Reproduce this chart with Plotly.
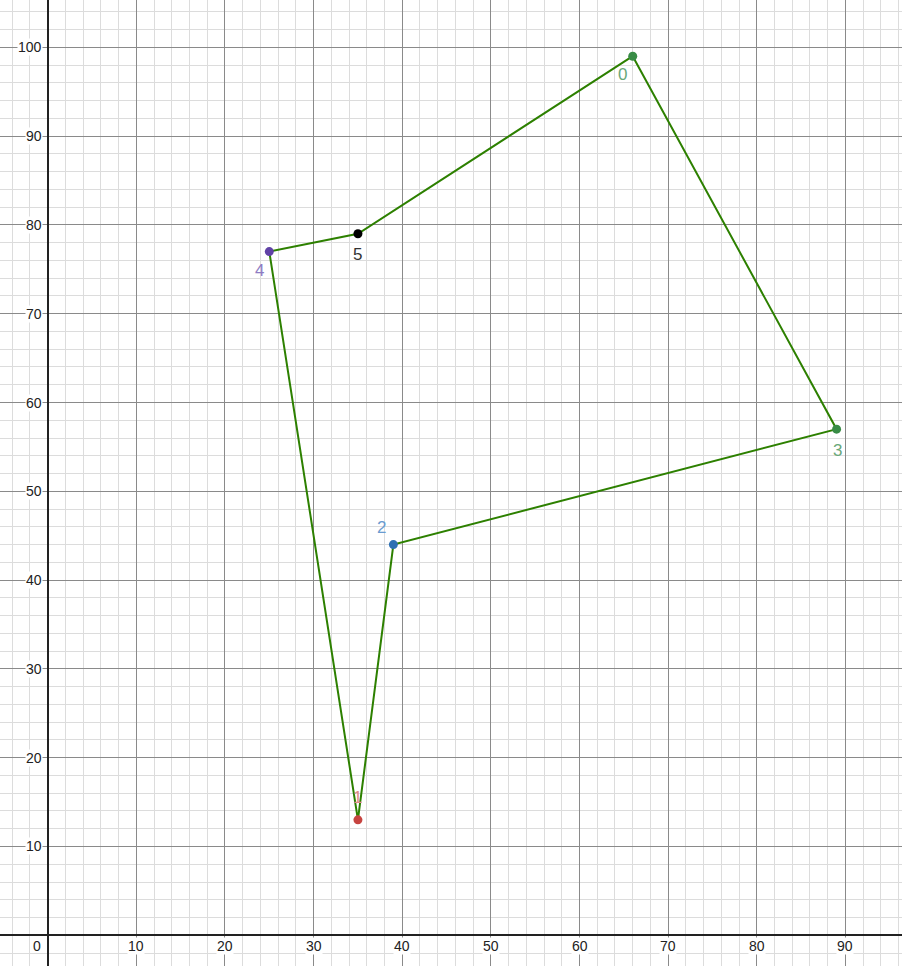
import plotly.graph_objects as go

# Data
point_labels = ["0", "1", "2", "3", "4", "5"]
point_x = [66, 35, 39, 89, 25, 35]
point_y = [99, 13, 44, 57, 77, 79]
polygon_order = [0, 3, 2, 1, 4, 5, 0]
x_ticks = [10, 20, 30, 40, 50, 60, 70, 80, 90]
y_ticks = [10, 20, 30, 40, 50, 60, 70, 80, 90, 100]

point_colors = ["#388c46", "#c74440", "#2d70b3", "#388c46", "#6042a6", "#000000"]
label_colors = ["#6aa87a", "#e08a86", "#6a9bd0", "#6aa87a", "#8e7cc3", "#333333"]
label_shift = [(-10, -18), (0, 22), (-12, 17), (1, -21), (-10, -19), (0, -21)]

fig = go.Figure()

px = [point_x[i] for i in polygon_order]
py = [point_y[i] for i in polygon_order]
fig.add_trace(go.Scatter(x=px, y=py, mode="lines",
                         line=dict(color="#2d8000", width=2), hoverinfo="skip"))
fig.add_trace(go.Scatter(x=point_x, y=point_y, mode="markers",
                         marker=dict(color=point_colors, size=9, line=dict(width=0)),
                         hoverinfo="skip"))

annotations = []
for lab, x, y, c, (dx, dy) in zip(point_labels, point_x, point_y, label_colors, label_shift):
    annotations.append(dict(x=x, y=y, xref="x", yref="y", text=lab, showarrow=False,
                            xshift=dx, yshift=dy,
                            font=dict(family="Liberation Sans, Arial", size=17, color=c)))
for t in x_ticks:
    annotations.append(dict(x=t, y=0, xref="x", yref="y", text=str(t), showarrow=False,
                            yshift=-11, bgcolor="white", borderpad=0,
                            font=dict(family="Liberation Sans, Arial", size=14, color="#222")))
for t in y_ticks:
    annotations.append(dict(x=0, y=t, xref="x", yref="y", text=str(t), showarrow=False,
                            xanchor="right", xshift=-5, bgcolor="white", borderpad=0,
                            font=dict(family="Liberation Sans, Arial", size=14, color="#222")))
annotations.append(dict(x=0, y=0, xref="x", yref="y", text="0", showarrow=False,
                        xanchor="right", xshift=-5, yshift=-11,
                        font=dict(family="Liberation Sans, Arial", size=14, color="#222")))

fig.update_layout(
    width=902, height=966,
    margin=dict(l=0, r=0, t=0, b=0),
    paper_bgcolor="white", plot_bgcolor="white",
    showlegend=False,
    annotations=annotations,
    xaxis=dict(range=[-5.38, 96.38], tick0=0, dtick=10, showticklabels=False,
               showgrid=True, gridcolor="#8a8a8a", gridwidth=1,
               minor=dict(dtick=2, showgrid=True, gridcolor="#dcdcdc", gridwidth=1),
               zeroline=True, zerolinecolor="#222", zerolinewidth=1.5,
               fixedrange=True, ticks=""),
    yaxis=dict(range=[-3.46, 105.33], tick0=0, dtick=10, showticklabels=False,
               showgrid=True, gridcolor="#8a8a8a", gridwidth=1,
               minor=dict(dtick=2, showgrid=True, gridcolor="#dcdcdc", gridwidth=1),
               zeroline=True, zerolinecolor="#222", zerolinewidth=1.5,
               fixedrange=True, ticks=""),
)

fig.write_html("out.html", config={"displayModeBar": False},
               post_script="document.body.style.margin='0';document.body.style.padding='0';")
